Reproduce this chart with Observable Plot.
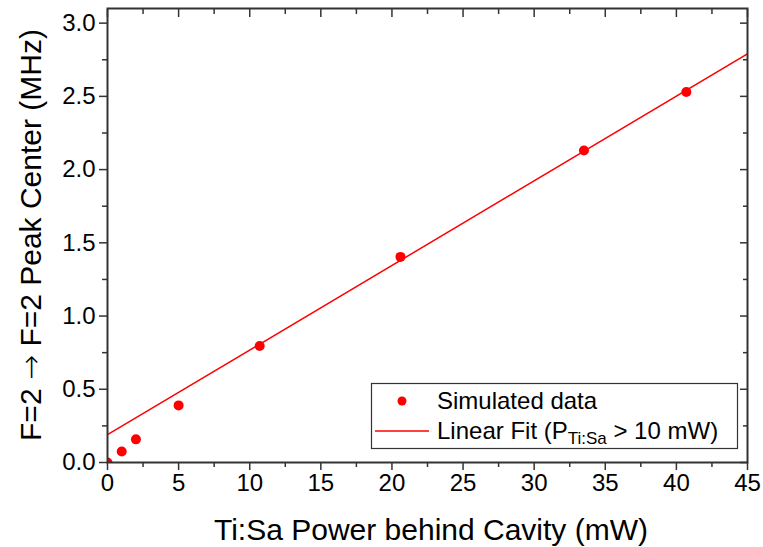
<!DOCTYPE html>
<html><head><meta charset="utf-8">
<script src="https://cdn.jsdelivr.net/npm/d3@7"></script>
<script src="https://cdn.jsdelivr.net/npm/@observablehq/plot@0.6"></script>
<style>html,body{margin:0;padding:0;background:#fff}#chart svg{display:block}</style>
</head><body><div id="chart"></div>
<script>
// Data
const power = [0, 1, 2, 5, 10.7, 20.6, 33.5, 40.7];
const peakCenter = [0, 0.075, 0.158, 0.39, 0.795, 1.404, 2.13, 2.53];
const fitPower = [0, 45];
const fitCenter = [0.19, 2.79];
const xTicks = [0, 5, 10, 15, 20, 25, 30, 35, 40, 45];
const xMinor = [2.5, 7.5, 12.5, 17.5, 22.5, 27.5, 32.5, 37.5, 42.5];
const yTicks = [0, 0.5, 1.0, 1.5, 2.0, 2.5, 3.0];
const yMinor = [0.25, 0.75, 1.25, 1.75, 2.25, 2.75];
const xTitle = "Ti:Sa Power behind Cavity (mW)";
const yTitle = ["F=2 ", "\u2192", " F=2 Peak Center (MHz)"];
const legendDots = "Simulated data";
const legendFit = ["Linear Fit (P", "Ti:Sa", " > 10 mW)"];

const pts = power.map((p, i) => ({p, c: peakCenter[i]}));
const fit = fitPower.map((p, i) => ({p, c: fitCenter[i]}));

const W = 763, H = 547;
const mL = 107, mR = 16, mT = 8, mB = 85;
const axisColor = "#333";
const font = "'Liberation Sans', Arial, Helvetica, sans-serif";

const plot = Plot.plot({
  width: W, height: H,
  marginLeft: mL, marginRight: mR, marginTop: mT, marginBottom: mB,
  style: {fontFamily: font, color: "#000", background: "#fff"},
  x: {domain: [0, 45]},
  y: {domain: [0, 3.1]},
  marks: [
    Plot.line(fit, {x: "p", y: "c", stroke: "#ff0000", strokeWidth: 1.5, clip: true}),
    Plot.dot(pts, {x: "p", y: "c", r: 5, fill: "#ff0000", clip: true}),
    // bottom axis (outward ticks)
    Plot.axisX({anchor: "bottom", ticks: xTicks, tickSize: 8, tickPadding: 3, fontSize: 24,
      tickFormat: d => String(d), label: null, stroke: axisColor, strokeWidth: 1.5}),
    Plot.axisX({anchor: "bottom", ticks: xMinor, tickSize: 5, tickFormat: () => "", label: null,
      stroke: axisColor, strokeWidth: 1.5}),
    // top axis (inward ticks)
    Plot.axisX({anchor: "top", ticks: xTicks, tickSize: 8, dy: 8, tickFormat: () => "", label: null,
      stroke: axisColor, strokeWidth: 1.5}),
    Plot.axisX({anchor: "top", ticks: xMinor, tickSize: 5, dy: 5, tickFormat: () => "", label: null,
      stroke: axisColor, strokeWidth: 1.5}),
    // left axis (outward ticks)
    Plot.axisY({anchor: "left", ticks: yTicks, tickSize: 8, tickPadding: 4, fontSize: 24,
      tickFormat: d3.format(".1f"), label: null, stroke: axisColor, strokeWidth: 1.5}),
    Plot.axisY({anchor: "left", ticks: yMinor, tickSize: 5, tickFormat: () => "", label: null,
      stroke: axisColor, strokeWidth: 1.5}),
    // right axis (inward ticks)
    Plot.axisY({anchor: "right", ticks: yTicks, tickSize: 8, dx: -8, tickFormat: () => "", label: null,
      stroke: axisColor, strokeWidth: 1.5}),
    Plot.axisY({anchor: "right", ticks: yMinor, tickSize: 5, dx: -5, tickFormat: () => "", label: null,
      stroke: axisColor, strokeWidth: 1.5}),
    Plot.frame({stroke: axisColor, strokeWidth: 2})
  ]
});

document.getElementById("chart").appendChild(plot);

const svg = d3.select(plot);
const cx = mL + (W - mL - mR) / 2;
const cy = mT + (H - mT - mB) / 2;

// axis titles
svg.append("text")
  .attr("x", cx + 4).attr("y", 540)
  .attr("text-anchor", "middle")
  .style("font-family", font).style("font-size", "30px").attr("fill", "#000")
  .text(xTitle);
const yt = svg.append("text")
  .attr("transform", `translate(41,${cy}) rotate(-90)`)
  .attr("text-anchor", "middle")
  .style("font-family", font).style("font-size", "30px").attr("fill", "#000");
yt.append("tspan").text(yTitle[0]);
yt.append("tspan").style("font-family", "'DejaVu Sans', sans-serif").style("font-weight", "200").text(yTitle[1]);
yt.append("tspan").text(yTitle[2]);

// legend
const lg = svg.append("g").style("font-family", font).style("font-size", "24px")
  .attr("text-anchor", "start");
lg.append("rect").attr("x", 371.5).attr("y", 383.5).attr("width", 366).attr("height", 65)
  .attr("fill", "#fff").attr("stroke", axisColor).attr("stroke-width", 1.2);
lg.append("circle").attr("cx", 402).attr("cy", 401).attr("r", 4.5).attr("fill", "#ff0000");
lg.append("text").attr("x", 437).attr("y", 409).attr("fill", "#000").text(legendDots);
lg.append("line").attr("x1", 375).attr("x2", 429).attr("y1", 431).attr("y2", 431)
  .attr("stroke", "#ff0000").attr("stroke-width", 1.5);
const t2 = lg.append("text").attr("x", 437).attr("y", 439).attr("fill", "#000");
t2.append("tspan").text(legendFit[0]);
t2.append("tspan").attr("dy", 5).style("font-size", "17px").text(legendFit[1]);
t2.append("tspan").attr("dy", -5).text(legendFit[2]);
</script>
</body></html>
